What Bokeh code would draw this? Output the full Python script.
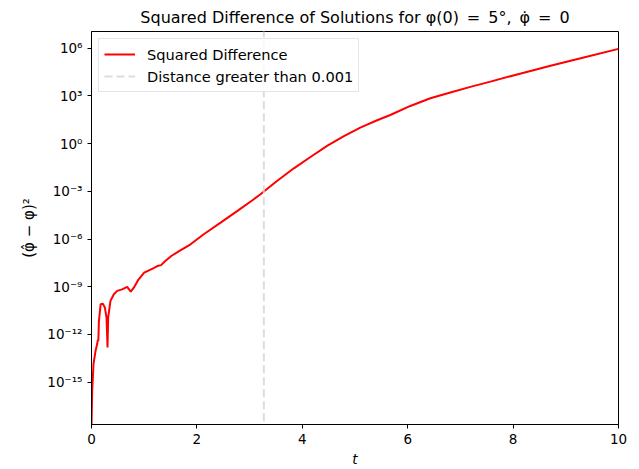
from bokeh.plotting import figure
from bokeh.models import Range1d, FixedTicker, CustomJSTickFormatter, Legend, LegendItem
from bokeh.embed import file_html
from bokeh.resources import INLINE

# ---- data ----
t = [0.0, 0.013, 0.038, 0.076, 0.108, 0.12, 0.13, 0.14, 0.173, 0.215, 0.253, 0.285,
     0.304, 0.316, 0.36, 0.424, 0.487, 0.58, 0.677, 0.745, 0.803, 0.88, 1.0, 1.16,
     1.25, 1.32, 1.4, 1.52, 1.67, 1.88, 2.13, 2.45, 2.77, 3.08, 3.207, 3.27, 3.52,
     3.84, 4.155, 4.47, 4.79, 5.1, 5.42, 5.67, 6.05, 6.43, 6.81, 7.19, 7.57, 7.95,
     8.71, 9.34, 10.0]
sq_diff = [2e-18, 2.8e-16, 1.35e-14, 9.1e-14, 2.5e-13, 4.5e-13, 4.0e-13, 6.3e-12, 7.9e-11,
           8.7e-11, 5.0e-11, 1.15e-11, 1.5e-13, 1.15e-11, 1.3e-10, 3.4e-10, 5.5e-10,
           6.9e-10, 9.8e-10, 4.9e-10, 8.7e-10, 2.5e-9, 7.8e-9, 1.4e-8, 2.0e-8, 2.3e-8,
           4.2e-8, 8.9e-8, 1.8e-7, 4.7e-7, 2.0e-6, 1.07e-5, 5.9e-5, 3.2e-4, 6.6e-4,
           9.8e-4, 4.5e-3, 2.8e-2, 0.145, 0.72, 3.0, 10.2, 29.5, 63.0, 234.0, 708.0,
           1620.0, 3700.0, 7900.0, 17400.0, 7.8e4, 2.6e5, 9.1e5]
t_threshold = [3.27, 3.27]
threshold_span = [1e-25, 1e12]
x_ticks = [0, 2, 4, 6, 8, 10]
y_ticks = [1e-15, 1e-12, 1e-9, 1e-6, 1e-3, 1e0, 1e3, 1e6]

FONT = "DejaVu Sans"

p = figure(width=639, height=469, output_backend="svg", toolbar_location=None,
           y_axis_type="log",
           x_range=Range1d(0, 10), y_range=Range1d(10**-17.66, 10**7.05),
           min_border_left=91, min_border_right=21, min_border_top=30,
           min_border_bottom=45)

p.title.text = "Squared Difference of Solutions for \u03c6(0)\u2002=\u20025\u00b0,\u2002\u03c6\u0307\u2002=\u20020"
p.title.text_font = FONT
p.title.text_font_size = "16px"
p.title.text_font_style = "normal"
p.title.align = "center"
p.title.text_color = "black"

p.xgrid.visible = False
p.ygrid.visible = False
p.outline_line_color = "black"
p.outline_line_width = 1
p.background_fill_color = "white"
p.border_fill_color = "white"

line = p.line(t, sq_diff, line_color="red", line_width=2)
vline = p.line(t_threshold, threshold_span, line_color="#d3d3d3", line_width=2,
               line_dash="8 4", line_alpha=0.8)

for ax in (p.xaxis[0], p.yaxis[0]):
    ax.axis_line_color = "black"
    ax.major_tick_line_color = "black"
    ax.major_tick_out = 4
    ax.major_tick_in = 0
    ax.minor_tick_line_color = None
    ax.major_label_text_font = FONT
    ax.major_label_text_font_size = "13.5px"
    ax.major_label_text_color = "black"
    ax.axis_label_text_font = FONT
    ax.axis_label_text_font_size = "13.5px"
    ax.axis_label_text_color = "black"

p.xaxis[0].ticker = FixedTicker(ticks=x_ticks, minor_ticks=[])
p.yaxis[0].ticker = FixedTicker(ticks=y_ticks, minor_ticks=[])
p.yaxis[0].formatter = CustomJSTickFormatter(code="""
const sup = {'0':'\u2070','1':'\u00b9','2':'\u00b2','3':'\u00b3','4':'\u2074','5':'\u2075',
             '6':'\u2076','7':'\u2077','8':'\u2078','9':'\u2079','-':'\u207b'};
const e = Math.round(Math.log10(tick)).toString();
let s = '';
for (const c of e) { s += sup[c]; }
return '10' + s;
""")
p.xaxis[0].axis_label = "t"
p.xaxis[0].axis_label_text_font_style = "italic"
p.xaxis[0].axis_label_standoff = 4
p.yaxis[0].axis_label = "(\u03c6\u0302 \u2212 \u03c6)\u00b2"
p.yaxis[0].axis_label_text_font_size = "15px"
p.yaxis[0].axis_label_text_font_style = "normal"
p.yaxis[0].axis_label_standoff = 6

legend = Legend(items=[LegendItem(label="Squared Difference", renderers=[line]),
                       LegendItem(label="Distance greater than 0.001", renderers=[vline])],
                location="top_left")
legend.label_text_font = FONT
legend.label_text_font_size = "14.6px"
legend.label_text_color = "black"
legend.glyph_width = 31
legend.glyph_height = 20
legend.label_height = 20
legend.label_standoff = 12
legend.spacing = 2
legend.padding = 5
legend.margin = 7
legend.border_line_color = "#cccccc"
legend.border_line_width = 1
legend.background_fill_alpha = 0.8
p.add_layout(legend)

open("out.html", "w").write(file_html(p, INLINE))
